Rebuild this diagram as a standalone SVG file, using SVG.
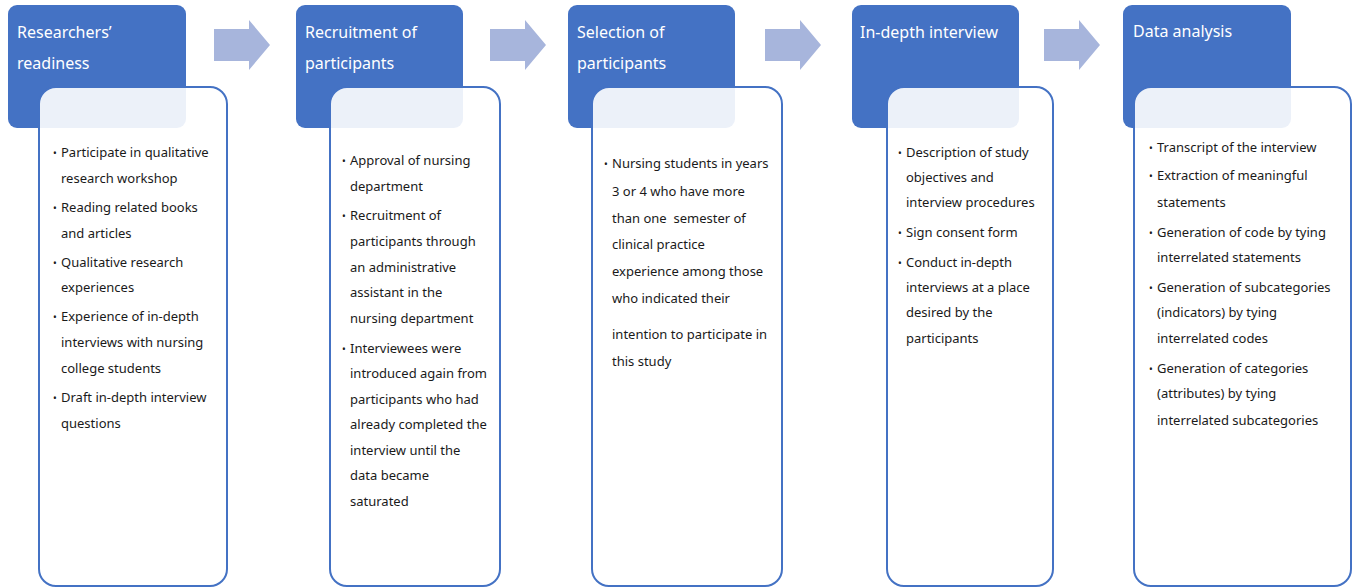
<svg xmlns="http://www.w3.org/2000/svg" width="1353" height="588" viewBox="0 0 1353 588">
<style>
.hdr{fill:#4472c4}
.body{fill:#ffffff;fill-opacity:0.9;stroke:#4472c4;stroke-width:2}
.arrow{fill:#a7b5dc}
.ht{font-family:"Noto Sans","Open Sans",sans-serif;font-size:16px;fill:#ffffff}
.bt{font-family:"Noto Sans","Open Sans",sans-serif;font-size:13px;fill:#1a1a1a}
.bl{font-family:"Noto Sans","Open Sans",sans-serif;font-size:10px;fill:#1a1a1a}
</style>
<rect width="1353" height="588" fill="#ffffff"/>
<g id="connectors">
<path class="arrow" d="M214,29 H249 V20 L270,45 L249,70 V61 H214 Z"/>
<path class="arrow" d="M490,29 H525 V20 L546,45 L525,70 V61 H490 Z"/>
<path class="arrow" d="M765,29 H800 V20 L821,45 L800,70 V61 H765 Z"/>
<path class="arrow" d="M1044,29 H1079 V20 L1100,45 L1079,70 V61 H1044 Z"/>
</g>
<g id="node1">
<rect class="hdr" x="8" y="5" width="178" height="123" rx="9"/>
<text class="ht" x="17" y="38">Researchers’</text>
<text class="ht" x="17" y="69">readiness</text>
<rect class="body" x="39" y="87" width="188" height="499" rx="17"/>
<text class="bl" x="53" y="157">•</text><text class="bt" x="61" y="157">Participate in qualitative</text>
<text class="bt" x="61" y="183">research workshop</text>
<text class="bl" x="53" y="212">•</text><text class="bt" x="61" y="212">Reading related books</text>
<text class="bt" x="61" y="238">and articles</text>
<text class="bl" x="53" y="267">•</text><text class="bt" x="61" y="267">Qualitative research</text>
<text class="bt" x="61" y="292">experiences</text>
<text class="bl" x="53" y="321">•</text><text class="bt" x="61" y="321">Experience of in-depth</text>
<text class="bt" x="61" y="347">interviews with nursing</text>
<text class="bt" x="61" y="373">college students</text>
<text class="bl" x="53" y="402">•</text><text class="bt" x="61" y="402">Draft in-depth interview</text>
<text class="bt" x="61" y="428">questions</text>
</g>
<g id="node2">
<rect class="hdr" x="296" y="5" width="167" height="123" rx="9"/>
<text class="ht" x="305" y="38">Recruitment of</text>
<text class="ht" x="305" y="69">participants</text>
<rect class="body" x="330" y="87" width="170" height="499" rx="17"/>
<text class="bl" x="342" y="165">•</text><text class="bt" x="350" y="165">Approval of nursing</text>
<text class="bt" x="350" y="191">department</text>
<text class="bl" x="342" y="220">•</text><text class="bt" x="350" y="220">Recruitment of</text>
<text class="bt" x="350" y="246">participants through</text>
<text class="bt" x="350" y="272">an administrative</text>
<text class="bt" x="350" y="297">assistant in the</text>
<text class="bt" x="350" y="323">nursing department</text>
<text class="bl" x="342" y="353">•</text><text class="bt" x="350" y="353">Interviewees were</text>
<text class="bt" x="350" y="378">introduced again from</text>
<text class="bt" x="350" y="404">participants who had</text>
<text class="bt" x="350" y="429">already completed the</text>
<text class="bt" x="350" y="455">interview until the</text>
<text class="bt" x="350" y="480">data became</text>
<text class="bt" x="350" y="506">saturated</text>
</g>
<g id="node3">
<rect class="hdr" x="568" y="5" width="167" height="123" rx="9"/>
<text class="ht" x="577" y="38">Selection of</text>
<text class="ht" x="577" y="69">participants</text>
<rect class="body" x="592" y="87" width="190" height="499" rx="17"/>
<text class="bl" x="604" y="168">•</text><text class="bt" x="612" y="168">Nursing students in years</text>
<text class="bt" x="612" y="196">3 or 4 who have more</text>
<text class="bt" x="612" y="223">than one&#160; semester of</text>
<text class="bt" x="612" y="249">clinical practice</text>
<text class="bt" x="612" y="276">experience among those</text>
<text class="bt" x="612" y="303">who indicated their</text>
<text class="bt" x="612" y="339">intention to participate in</text>
<text class="bt" x="612" y="366">this study</text>
</g>
<g id="node4">
<rect class="hdr" x="852" y="5" width="167" height="123" rx="9"/>
<text class="ht" x="860" y="38">In-depth interview</text>
<rect class="body" x="887" y="87" width="166" height="499" rx="17"/>
<text class="bl" x="898" y="157">•</text><text class="bt" x="906" y="157">Description of study</text>
<text class="bt" x="906" y="182">objectives and</text>
<text class="bt" x="906" y="207">interview procedures</text>
<text class="bl" x="898" y="237">•</text><text class="bt" x="906" y="237">Sign consent form</text>
<text class="bl" x="898" y="267">•</text><text class="bt" x="906" y="267">Conduct in-depth</text>
<text class="bt" x="906" y="292">interviews at a place</text>
<text class="bt" x="906" y="317">desired by the</text>
<text class="bt" x="906" y="343">participants</text>
</g>
<g id="node5">
<rect class="hdr" x="1123" y="5" width="168" height="123" rx="9"/>
<text class="ht" x="1133" y="37">Data analysis</text>
<rect class="body" x="1134" y="87" width="217" height="499" rx="17"/>
<text class="bl" x="1149" y="152">•</text><text class="bt" x="1157" y="152">Transcript of the interview</text>
<text class="bl" x="1149" y="180">•</text><text class="bt" x="1157" y="180">Extraction of meaningful</text>
<text class="bt" x="1157" y="207">statements</text>
<text class="bl" x="1149" y="237">•</text><text class="bt" x="1157" y="237">Generation of code by tying</text>
<text class="bt" x="1157" y="262">interrelated statements</text>
<text class="bl" x="1149" y="292">•</text><text class="bt" x="1157" y="292">Generation of subcategories</text>
<text class="bt" x="1157" y="317">(indicators) by tying</text>
<text class="bt" x="1157" y="343">interrelated codes</text>
<text class="bl" x="1149" y="373">•</text><text class="bt" x="1157" y="373">Generation of categories</text>
<text class="bt" x="1157" y="398">(attributes) by tying</text>
<text class="bt" x="1157" y="425">interrelated subcategories</text>
</g>
</svg>
